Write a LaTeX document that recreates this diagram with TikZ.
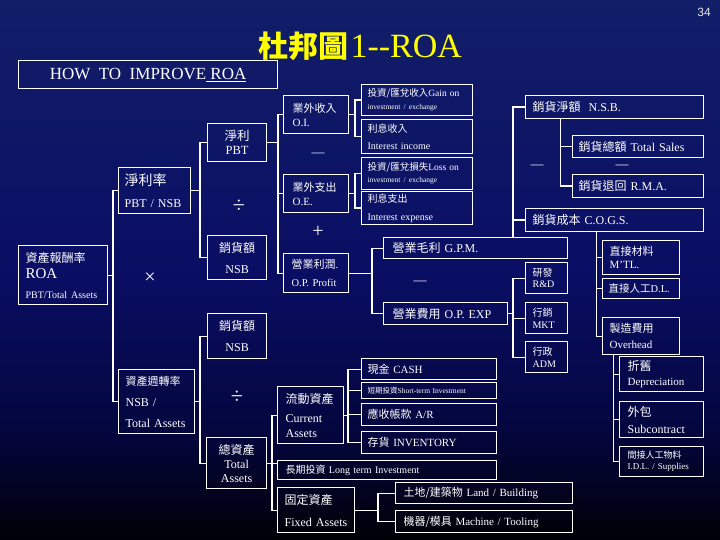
\documentclass[tikz,border=0pt]{standalone}
\usepackage{fontspec}
\setmainfont{Liberation Serif}
\newfontfamily\cjk{Noto Sans CJK TC}
\newfontfamily\pgsans{Liberation Sans}
\newcommand\zh[1]{{\cjk #1}}
\newcommand\fsz[2]{\fontsize{#1}{#2}\selectfont}
\definecolor{bgA}{RGB}{0,0,6}
\definecolor{bgB}{RGB}{4,6,62}
\definecolor{bgC}{RGB}{10,14,100}
\definecolor{bgD}{RGB}{18,30,104}
\definecolor{ttlc}{RGB}{255,255,0}
\pgfdeclareverticalshading{bgshade}{100bp}{color(0bp)=(bgA); color(25bp)=(bgA); color(35bp)=(bgB); color(50bp)=(bgC); color(75bp)=(bgD); color(100bp)=(bgD)}
\tikzset{
  box/.style={draw=white, line width=1.2pt, inner ysep=0pt, anchor=north west, text=white},
  ln/.style={draw=white, line width=1.2pt},
  op/.style={text=white, inner sep=0pt}
}
% #1 options, #2 name, #3 x, #4 y, #5 width, #6 height, #7 padding, #8 text
\newcommand\bxn[8][]{\pgfmathsetmacro\bxtw{#5-2*#7}\node[box, align=left, #1, inner xsep=#7pt, minimum width=#5pt, minimum height=#6pt, text width=\bxtw pt] (#2) at (#3,#4) {#8};}
\begin{document}
\begin{tikzpicture}[x=1pt,y=-1pt]
\useasboundingbox (0,0) rectangle (720,540);
\shade[shading=bgshade] (0,0) rectangle (720,540);

% title and page number
\node[text=ttlc, inner sep=0pt] (ttl) at (360,46) {{\fsz{30}{36}\cjk\bfseries 杜邦圖} {\fsz{34}{36}1-{}-ROA}};
\node[text=white!80!gray, inner sep=0pt] (pg) at (704,12) {\pgsans\fsz{12}{14}34};
\node[box, minimum width=259pt, minimum height=28pt, font=\fsz{17}{19}] (hti) at (18,60) {HOW\ \ TO\ \ IMPROVE\underline{\ ROA}};

% left part
\bxn[align=center, font=\fsz{12.5}{14}]{pbt}{207}{123}{59}{38}{7}{\zh{淨利}\\PBT}
\bxn[font=\fsz{12}{22}]{npr}{118}{167}{72}{46}{6}{{\fsz{14}{16}\zh{淨利率}}\\\mbox{PBT / NSB}}
\bxn[font=\fsz{11}{14}]{oi}{283}{95}{65}{38}{9}{\zh{業外收入}\\O.I.}
\bxn[font=\fsz{11}{14}]{oe}{283}{174}{65}{38}{9}{\zh{業外支出}\\O.E.}
\bxn[align=center, font=\fsz{12}{21}]{nsb1}{207}{235}{59}{44}{7}{\zh{銷貨額}\\NSB}
\bxn[font=\fsz{10.5}{18}]{opp}{283}{253}{65}{39}{8}{{\fsz{11}{13}\zh{營業利潤}.}\\O.P. Profit}
\bxn[font=\fsz{12}{16}]{roa}{18}{245}{89}{59}{7}{\zh{資產報酬率}\\{\fsz{15}{18}ROA}\\[4pt]{\fsz{10}{12}PBT/Total Assets}}
\bxn[align=center, font=\fsz{12}{21}]{nsb2}{207}{313}{59}{45}{7}{\zh{銷貨額}\\NSB}
\bxn[font=\fsz{12}{21}]{at}{118}{369}{76}{64}{7}{{\fsz{11}{13}\zh{資產週轉率}}\\NSB /\\Total Assets}
\bxn[align=center, font=\fsz{12}{14}]{ta}{206}{437}{60}{51}{7}{\zh{總資產}\\Total\\Assets}
\bxn[font=\fsz{12}{15}]{ca}{277}{386}{66}{57}{8}{\zh{流動資產}\\[4pt]Current\\Assets}
\bxn[font=\fsz{10}{12}]{lti}{277}{460}{219}{19}{8}{\zh{長期投資} Long term Investment}
\bxn[font=\fsz{12}{22}]{fa}{277}{487}{77}{45}{7}{\zh{固定資產}\\Fixed Assets}
\bxn[font=\fsz{11}{13}]{land}{395}{482}{177}{21}{8}{\zh{土地/建築物} Land / Building}
\bxn[font=\fsz{11}{13}]{mach}{395}{510}{177}{22}{8}{\zh{機器/模具} Machine / Tooling}
\bxn[font=\fsz{11}{13}]{cash}{361}{358}{135}{21}{6}{\zh{現金} CASH}
\bxn[font=\fsz{7.5}{9}]{sti}{361}{382}{135}{16}{6}{\zh{短期投資}Short-term Investment}
\bxn[font=\fsz{11}{13}]{ar}{361}{403}{135}{22}{6}{\zh{應收帳款} A/R}
\bxn[font=\fsz{11}{13}]{inv}{361}{431}{135}{22}{6}{\zh{存貨} INVENTORY}

% right-top part
\bxn[font=\fsz{9.5}{13}]{gi}{361}{84}{111}{31}{6}{\zh{投資/匯兌收入}Gain on\\{\fsz{7.5}{9}investment / exchange}}
\bxn[font=\fsz{10}{17}]{ii}{361}{119}{111}{34}{6}{\zh{利息收入}\\Interest income}
\bxn[font=\fsz{9.5}{12}]{gl}{361}{157}{111}{32}{6}{\zh{投資/匯兌損失}Loss on\\{\fsz{7.5}{9}investment / exchange}}
\bxn[font=\fsz{10}{18}]{ie}{361}{191}{111}{33}{6}{\zh{利息支出}\\Interest expense}
\bxn[font=\fsz{12}{14}]{nsbr}{525}{95}{178}{23}{7}{\zh{銷貨淨額}\ \ N.S.B.}
\bxn[font=\fsz{12}{14}]{ts}{572}{135}{131}{22}{6}{\zh{銷貨總額} Total Sales}
\bxn[font=\fsz{12}{14}]{rma}{572}{174}{131}{23}{6}{\zh{銷貨退回} R.M.A.}
\bxn[font=\fsz{12}{14}]{cogs}{525}{208}{178}{23}{7}{\zh{銷貨成本} C.O.G.S.}
\bxn[font=\fsz{12}{14}]{gpm}{383}{237}{184}{21}{9}{\zh{營業毛利} G.P.M.}
\bxn[font=\fsz{12}{14}]{opx}{383}{302}{124}{22}{9}{\zh{營業費用} O.P. EXP}
\bxn[font=\fsz{10}{11.5}]{rd}{525}{262}{42}{31}{7}{\zh{研發}\\R\&D}
\bxn[font=\fsz{10}{11.5}]{mkt}{525}{302}{42}{31}{7}{\zh{行銷}\\MKT}
\bxn[font=\fsz{10}{11.5}]{adm}{525}{341}{42}{31}{7}{\zh{行政}\\ADM}
\bxn[font=\fsz{11}{13}]{mtl}{602}{240}{77}{34}{7}{\zh{直接材料}\\M'TL.}
\bxn[font=\fsz{10.5}{13}]{dl}{602}{278}{77}{20}{6}{\zh{直接人工}D.L.}
\bxn[font=\fsz{11}{16}]{oh}{602}{317}{77}{37}{7}{\zh{製造費用}\\Overhead}
\bxn[font=\fsz{11}{15}]{dep}{619}{356}{84}{35}{8}{{\fsz{12}{14}\zh{折舊}}\\Depreciation}
\bxn[font=\fsz{12}{17}]{sub}{619}{401}{84}{36}{8}{\zh{外包}\\Subcontract}
\bxn[font=\fsz{9}{11}]{idl}{619}{446}{84}{30}{8}{\zh{間接人工物料}\\I.D.L. / Supplies}

% operators
\node[op, font=\fsz{13}{14}] (m1) at (318,155) {—};
\node[op, font=\fsz{20}{22}] (p1) at (318,232) {+};
\node[op, font=\fsz{22}{24}] (d1) at (239,206) {÷};
\node[op, font=\fsz{20}{22}] (x1) at (150,278) {×};
\node[op, font=\fsz{22}{24}] (d2) at (237,397) {÷};
\node[op, font=\fsz{13}{14}] (m2) at (420,283) {—};
\node[op, font=\fsz{13}{14}] (m3) at (537,167) {—};
\node[op, font=\fsz{13}{14}] (m4) at (622,167) {—};

% connectors
\draw[ln] (pbt.west) -- ++(-7,0) |- (nsb1.west);
\draw[ln] (npr.east) -- ++(10,0);
\draw[ln] (oi.west) -- ++(-5,0) |- (opp.west);
\draw[ln] (oe.west) -- ++(-5,0);
\draw[ln] (pbt.east) -- ++(12,0);
\draw[ln] (npr.west) -- ++(-5,0) |- (at.west);
\draw[ln] (roa.east) -- ++(6,0);
\draw[ln] (nsb2.west) -- ++(-7,0) |- (ta.west);
\draw[ln] (at.east) -- ++(6,0);
\draw[ln] (ca.west) -- ++(-5,0) |- (fa.west);
\draw[ln] (ta.east) -- (ta.east -| lti.west);
\draw[ln] (cash.west) -- ++(-13,0) |- (inv.west);
\draw[ln] (sti.west) -- ++(-13,0);
\draw[ln] (ar.west) -- ++(-13,0);
\draw[ln] (ca.east) -- ++(5,0);
\draw[ln] (land.west) -- ++(-17,0) |- (mach.west);
\draw[ln] (fa.east) -- ++(24,0);
\draw[ln] (gi.west) -- ++(-6,0) |- (ii.west);
\draw[ln] (oi.east) -- ++(7,0);
\draw[ln] (gl.west) -- ++(-6,0) |- (ie.west);
\draw[ln] (oe.east) -- ++(7,0);
\draw[ln] (nsbr.west) -- ++(-12,0) coordinate (c1) -- (c1 |- gpm.north);
\draw[ln] (cogs.west) -- ++(-12,0);
\draw[ln] ([xshift=-54pt]nsbr.south) |- (rma.west);
\draw[ln] (ts.west) -- ++(-12,0);
\draw[ln] ([xshift=-18pt]cogs.south) |- (oh.west);
\draw[ln] (mtl.west) -- ++(-6,0);
\draw[ln] (dl.west) -- ++(-6,0);
\draw[ln] ([xshift=-27.5pt]oh.south) |- (idl.west);
\draw[ln] (dep.west) -- ++(-6,0);
\draw[ln] (sub.west) -- ++(-6,0);
\draw[ln] (gpm.west) -- ++(-11,0) |- (opx.west);
\draw[ln] (opp.east) -- ++(24,0);
\draw[ln] (rd.west) -- ++(-12,0) |- (adm.west);
\draw[ln] (mkt.west) -- ++(-12,0);
\draw[ln] (opx.east) -- ++(6,0);
\end{tikzpicture}
\end{document}
